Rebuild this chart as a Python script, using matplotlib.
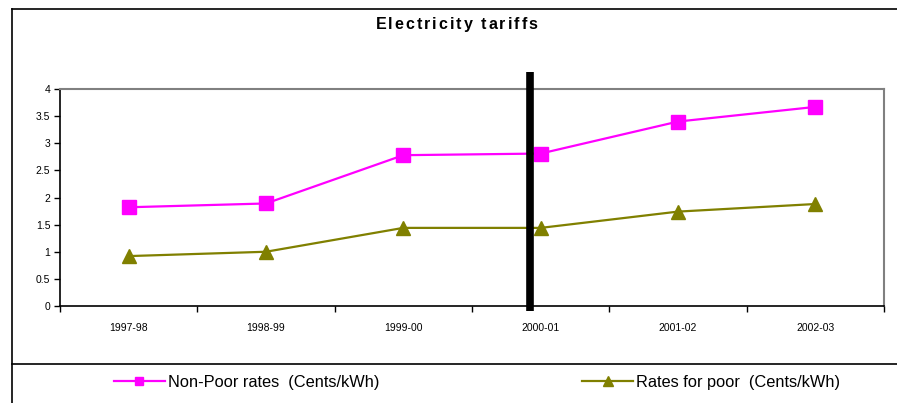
import matplotlib
matplotlib.use("Agg")
import matplotlib.pyplot as plt
from matplotlib.lines import Line2D
from matplotlib.font_manager import FontProperties

# Data
years = ["1997-98", "1998-99", "1999-00", "2000-01", "2001-02", "2002-03"]
non_poor = [1.82, 1.89, 2.78, 2.81, 3.40, 3.67]
poor = [0.92, 1.00, 1.44, 1.44, 1.74, 1.88]
yticks = [0, 0.5, 1, 1.5, 2, 2.5, 3, 3.5, 4]
ytick_labels = ["0", "0.5", "1", "1.5", "2", "2.5", "3", "3.5", "4"]
divider_pos = 2.92  # position of the vertical divider, in category units
title = "Electricity tariffs"
label_non_poor = "Non-Poor rates  (Cents/kWh)"
label_poor = "Rates for poor  (Cents/kWh)"

plt.rcParams["font.family"] = ["Liberation Sans", "DejaVu Sans"]

W, H = 897, 403
fig = plt.figure(figsize=(W / 100, H / 100), dpi=100)
fig.patch.set_facecolor("white")

ax = fig.add_axes([60 / W, 1 - 306 / H, (884 - 60) / W, (306 - 89) / H])
x = list(range(len(years)))

ax.plot(x, non_poor, color="#FF00FF", lw=1.6, marker="s", ms=9.5,
        mec="#FF00FF", mfc="#FF00FF", label=label_non_poor, zorder=3)
ax.plot(x, poor, color="#808000", lw=1.6, marker="^", ms=10.5,
        mec="#808000", mfc="#808000", label=label_poor, zorder=3)

# thick vertical divider extending beyond the plot area
ax.plot([divider_pos, divider_pos], [-0.1, 4.32], color="black", lw=5.5,
        solid_capstyle="butt", clip_on=False, zorder=4)

ax.set_xlim(-0.5, len(years) - 0.5)
ax.set_ylim(0, 4)
ax.set_yticks(yticks)
ax.set_yticklabels(ytick_labels, fontsize=7.5)
ax.set_xticks(x)
ax.set_xticklabels(years, fontsize=7.5)
ax.set_xticks([i - 0.5 for i in range(len(years) + 1)], minor=True)
ax.tick_params(axis="x", which="major", length=0, pad=12)
ax.tick_params(axis="x", which="minor", length=4, width=1, direction="out")
ax.tick_params(axis="y", length=4, width=1, direction="out", pad=3)

for side in ("top", "right"):
    ax.spines[side].set_color("#808080")
    ax.spines[side].set_linewidth(1.5)
for side in ("left", "bottom"):
    ax.spines[side].set_color("black")
    ax.spines[side].set_linewidth(1.2)

# Title with letter spacing
fig.canvas.draw()
renderer = fig.canvas.get_renderer()
fp = FontProperties(family=["Liberation Sans", "DejaVu Sans"], weight="bold", size=11.5)
spacing = 2.0
widths = []
for ch in title:
    if ch == " ":
        w, _, _ = renderer.get_text_width_height_descent("a a", fp, ismath=False)
        w2, _, _ = renderer.get_text_width_height_descent("aa", fp, ismath=False)
        widths.append(w - w2)
    else:
        w, _, _ = renderer.get_text_width_height_descent(ch, fp, ismath=False)
        widths.append(w)
total = sum(widths) + spacing * (len(title) - 1)
xpos = 456.5 - total / 2
for ch, w in zip(title, widths):
    fig.text(xpos / W, 1 - 29 / H, ch, fontproperties=fp, ha="left", va="baseline")
    xpos += w + spacing

# Outer frame lines
frame = dict(color="black", lw=1.2, transform=fig.transFigure)
fig.add_artist(Line2D([12 / W, 12 / W], [0, 1 - 9 / H], **frame))
fig.add_artist(Line2D([12 / W, 1], [1 - 9 / H, 1 - 9 / H], **frame))
fig.add_artist(Line2D([12 / W, 1], [1 - 364 / H, 1 - 364 / H], **frame))

# Legend
leg = fig.legend(loc="center left", bbox_to_anchor=(114 / W, 1 - 382 / H), ncol=2,
                 frameon=False, fontsize=11.8, handlelength=3.1, handletextpad=0.18,
                 columnspacing=12.4, markerscale=0.65, borderpad=0, borderaxespad=0)

fig.savefig("out.png", dpi=100, facecolor="white")
